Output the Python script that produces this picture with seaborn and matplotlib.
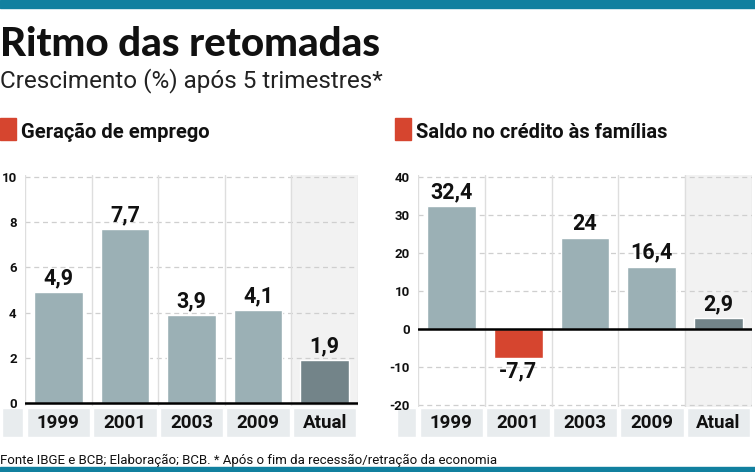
import numpy as np
import pandas as pd
import matplotlib
matplotlib.use("Agg")
import matplotlib.pyplot as plt
import seaborn as sns

# dados
anos = ["1999", "2001", "2003", "2009", "Atual"]
emprego = [4.9, 7.7, 3.9, 4.1, 1.9]
credito = [32.4, -7.7, 24, 16.4, 2.9]
ticks_emprego = [0, 2, 4, 6, 8, 10]
ticks_credito = [-20, -10, 0, 10, 20, 30, 40]

titulo = "Ritmo das retomadas"
subtitulo = "Crescimento (%) após 5 trimestres*"
titulo_esq = "Geração de emprego"
titulo_dir = "Saldo no crédito às famílias"
fonte = "Fonte IBGE e BCB; Elaboração; BCB. * Após o fim da recessão/retração da economia"

AZUL = "#9bb0b5"
ATUAL = "#738489"
VERMELHO = "#d6452f"
FAIXA = "#e8ecee"
FUNDO_ATUAL = "#f2f2f2"
TEAL = "#11809f"

sns.set_theme(style="white")
plt.rcParams["font.family"] = ["Roboto", "DejaVu Sans"]

W, H = 755, 472
fig = plt.figure(figsize=(W / 100, H / 100), dpi=100)


def px_axes(x0, y0, x1, y1):
    return fig.add_axes([x0 / W, 1 - y1 / H, (x1 - x0) / W, (y1 - y0) / H])


def painel(x0, x1, y0, y1, band_x0, valores, ticks, ylim):
    # faixa de rótulos (desenhada antes, fica por baixo)
    n = len(anos)
    unit = (x1 - x0) / n
    extra = (x0 - band_x0) / unit
    bx = px_axes(band_x0, 408, x1, 437)
    bx.bar(range(n), 1, width=0.95, color=FAIXA, align="center")
    bx.bar(-0.5 - extra / 2, 1, width=extra - 0.05, color=FAIXA)
    for i, a in enumerate(anos):
        bx.text(i, 0.5, a, ha="center", va="center", fontsize=13.5,
                fontweight="bold", color="#111111")
    bx.set_xlim(-0.5 - extra, n - 0.5)
    bx.set_ylim(0, 1)
    bx.axis("off")

    ax = px_axes(x0, y0, x1, y1)
    cores = [VERMELHO if v < 0 else AZUL for v in valores]
    cores[-1] = ATUAL
    df = pd.DataFrame({"ano": anos, "v": valores})
    ax.axvspan(n - 1.5, n - 0.5, color=FUNDO_ATUAL, zorder=0)
    for t in ticks:
        ax.axhline(t, color="#cfcfcf", lw=0.9, ls=(0, (4, 3)), zorder=1)
    for i in range(n + 1):
        ax.axvline(i - 0.5, color="#dedede", lw=1, zorder=1)
    sns.barplot(data=df, x="ano", y="v", hue="ano", palette=cores,
                legend=False, width=0.73, ax=ax, zorder=2, saturation=1)
    span = ylim[1] - ylim[0]
    for i, v in enumerate(valores):
        txt = f"{v:g}".replace(".", ",")
        if v >= 0:
            ax.text(i, v + span * 0.012, txt, ha="center", va="bottom",
                    fontsize=15.5, fontweight="bold", color="#111111", zorder=3)
        else:
            ax.text(i, v - span * 0.012, txt, ha="center", va="top",
                    fontsize=15.5, fontweight="bold", color="#111111", zorder=3)
    if ylim[0] < 0:
        ax.axhline(0, color="black", lw=1.8, zorder=3)
    ax.set_xlim(-0.5, n - 0.5)
    ax.set_ylim(*ylim)
    ax.set_yticks(ticks)
    ax.set_yticklabels([str(t) for t in ticks], fontsize=9.5, fontweight="bold")
    ax.tick_params(axis="y", length=0, pad=6, colors="#111111")
    ax.set_xticks([])
    ax.set_xlabel("")
    ax.set_ylabel("")
    for s in ax.spines.values():
        s.set_visible(False)
    ax.patch.set_alpha(0)
    return ax


painel(25, 358, 175, 406, 0, emprego, ticks_emprego, (-0.13, 10.09))
painel(418, 752, 175, 407, 395, credito, ticks_credito, (-20.6, 40.5))

# cabeçalho
fig.patches.append(plt.Rectangle((0, 1 - 8 / H), 1, 8 / H, transform=fig.transFigure,
                                 color=TEAL, zorder=5))
fig.patches.append(plt.Rectangle((0, 0), 1, 5 / H, transform=fig.transFigure,
                                 color=TEAL, zorder=5))
fig.text(0, 1 - 56 / H, titulo, fontsize=29, fontweight="black", color="#111111",
         va="baseline", ha="left", family=["Lato", "Roboto", "DejaVu Sans"])
fig.text(0, 1 - 87 / H, subtitulo, fontsize=17.5, fontweight="normal", color="#222222",
         va="baseline", ha="left")

for xq, txt in [(0, titulo_esq), (395, titulo_dir)]:
    fig.patches.append(plt.Rectangle((xq / W, 1 - 140 / H), 16 / W, 22 / H,
                                     transform=fig.transFigure, color=VERMELHO))
    fig.text((xq + 21) / W, 1 - 138 / H, txt, fontsize=14.5, fontweight="bold",
             color="#111111", va="baseline", ha="left")

fig.text(0, 1 - 464 / H, fonte, fontsize=9.5, color="#111111", va="baseline", ha="left")

fig.savefig("out.png", dpi=100)
